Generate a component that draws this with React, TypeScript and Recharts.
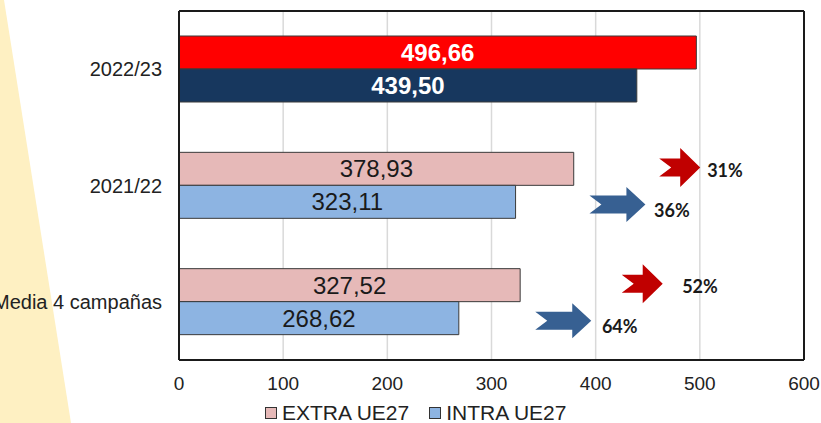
import React from "react";
import {
  BarChart,
  Bar,
  XAxis,
  YAxis,
  CartesianGrid,
  Cell,
  LabelList,
  Legend,
  ReferenceDot,
  ReferenceLine,
} from "recharts";

// Datos de la gráfica
const categories = ["2022/23", "2021/22", "Media 4 campañas"];
const extraUE27 = [496.66, 378.93, 327.52];
const intraUE27 = [439.5, 323.11, 268.62];
const xTicks = [0, 100, 200, 300, 400, 500, 600];

// Flechas de variación (posición en unidades del eje X)
const arrowCategory = ["2021/22", "2021/22", "Media 4 campañas", "Media 4 campañas"];
const arrowSeries = ["extra", "intra", "extra", "intra"];
const arrowFrom = [461, 394, 425, 342];
const arrowLabelAt = [507, 456, 483, 406];
const arrowPct = ["31%", "36%", "52%", "64%"];

const FONT = '"Liberation Sans", Arial, sans-serif';
const BORDER = "#1a1a1a";

const colors = {
  extra: "#E6B9B8",
  intra: "#8DB4E2",
  extraHi: "#FF0000",
  intraHi: "#17375E",
  arrowExtra: "#C00000",
  arrowIntra: "#376092",
};

const chartData = categories.map((name, i) => ({
  name,
  extra: extraUE27[i],
  intra: intraUE27[i],
}));

const fmt = (v: number) => v.toFixed(2).replace(".", ",");

const arrowStyle: Record<string, any> = {
  extra: { color: colors.arrowExtra, w: 41, h: 39, head: 21, body: 9, notch: 12, dy: -18, labelDy: -16 },
  intra: { color: colors.arrowIntra, w: 56, h: 35, head: 37, body: 9, notch: 12, dy: 19, labelDy: 24 },
};

function makeArrow(series: string) {
  const s = arrowStyle[series];
  return (props: any) => {
    const x0 = props.cx;
    const yc = props.cy + s.dy;
    const hs = x0 + s.head;
    const d = [
      `M${x0},${yc - s.body}`,
      `L${hs},${yc - s.body}`,
      `L${hs},${yc - s.h / 2}`,
      `L${x0 + s.w},${yc}`,
      `L${hs},${yc + s.h / 2}`,
      `L${hs},${yc + s.body}`,
      `L${x0},${yc + s.body}`,
      `L${x0 + s.notch},${yc}`,
      "Z",
    ].join(" ");
    return <path d={d} fill={s.color} />;
  };
}

function makePct(series: string, text: string) {
  const s = arrowStyle[series];
  return (props: any) => (
    <text
      x={props.cx}
      y={props.cy + s.labelDy}
      dominantBaseline="central"
      fontFamily="Lato, sans-serif"
      fontWeight={700}
      fontSize={18}
      fill="#1a1a1a"
    >
      {text}
    </text>
  );
}

function makeBarLabel() {
  return (props: any) => {
    const { x, y, width, height, value, index } = props;
    const hi = index === 0;
    return (
      <text
        x={x + width / 2}
        y={y + height / 2}
        textAnchor="middle"
        dominantBaseline="central"
        fontFamily={FONT}
        fontSize={24}
        fontWeight={hi ? 700 : 400}
        fill={hi ? "#ffffff" : "#1a1a1a"}
      >
        {fmt(value)}
      </text>
    );
  };
}

function LegendContent() {
  const item = (color: string, label: string, gap: number) => (
    <span style={{ display: "inline-flex", alignItems: "center", marginRight: gap }}>
      <span
        style={{
          width: 10,
          height: 10,
          background: color,
          border: "1px solid #333",
          marginRight: 5,
          display: "inline-block",
        }}
      />
      <span>{label}</span>
    </span>
  );
  return (
    <div
      style={{
        boxSizing: "border-box",
        height: 27,
        paddingTop: 7,
        paddingLeft: 265,
        lineHeight: "18px",
        fontFamily: FONT,
        fontSize: 21,
        color: "#222",
        display: "flex",
        alignItems: "center",
        whiteSpace: "nowrap",
      }}
    >
      {item(colors.extra, "EXTRA UE27", 20)}
      {item(colors.intra, "INTRA UE27", 0)}
    </div>
  );
}

export default function App() {
  return (
    <div style={{ position: "absolute", left: 0, top: 0, width: 821, height: 423, background: "#fff" }}>
      <svg width={821} height={423} style={{ position: "absolute", left: 0, top: 0 }}>
        <polygon points="0,0 4,0 71,423 0,423" fill="#FEF0C2" />
      </svg>
      <div style={{ position: "absolute", left: 0, top: 0 }}>
        <BarChart
          width={821}
          height={423}
          data={chartData}
          layout="vertical"
          margin={{ top: 11, right: 17, left: 0, bottom: 0 }}
          barSize={33}
          barGap={0}
        >
          <CartesianGrid horizontal={false} stroke="#D9D9D9" strokeWidth={1.5} />
          <XAxis
            type="number"
            domain={[0, 600]}
            ticks={xTicks}
            height={36}
            tickLine={false}
            tickSize={6}
            tickMargin={11}
            axisLine={{ stroke: BORDER, strokeWidth: 2 }}
            tick={{ fill: "#222", fontSize: 19, fontFamily: FONT }}
          />
          <YAxis
            type="category"
            dataKey="name"
            width={179}
            tickLine={false}
            tickSize={6}
            tickMargin={11}
            axisLine={{ stroke: BORDER, strokeWidth: 2 }}
            tick={{ fill: "#222", fontSize: 20, fontFamily: FONT }}
          />
          <Legend verticalAlign="bottom" content={<LegendContent />} />
          <Bar dataKey="extra" name="EXTRA UE27" fill={colors.extra} stroke="#3a3a3a" strokeWidth={1} isAnimationActive={false}>
            {chartData.map((d, i) => (
              <Cell key={d.name} fill={i === 0 ? colors.extraHi : colors.extra} />
            ))}
            <LabelList dataKey="extra" content={makeBarLabel()} />
          </Bar>
          <Bar dataKey="intra" name="INTRA UE27" fill={colors.intra} stroke="#3a3a3a" strokeWidth={1} isAnimationActive={false}>
            {chartData.map((d, i) => (
              <Cell key={d.name} fill={i === 0 ? colors.intraHi : colors.intra} />
            ))}
            <LabelList dataKey="intra" content={makeBarLabel()} />
          </Bar>
          {/* marco del área de trazado */}
          <ReferenceLine y={categories[0]} position="start" stroke={BORDER} strokeWidth={2} />
          <ReferenceLine x={600} stroke={BORDER} strokeWidth={2} />
          {arrowPct.map((p, i) => (
            <ReferenceDot
              key={"a" + i}
              x={arrowFrom[i]}
              y={arrowCategory[i]}
              r={1}
              shape={makeArrow(arrowSeries[i])}
            />
          ))}
          {arrowPct.map((p, i) => (
            <ReferenceDot
              key={"p" + i}
              x={arrowLabelAt[i]}
              y={arrowCategory[i]}
              r={1}
              shape={makePct(arrowSeries[i], p)}
            />
          ))}
        </BarChart>
      </div>
    </div>
  );
}
